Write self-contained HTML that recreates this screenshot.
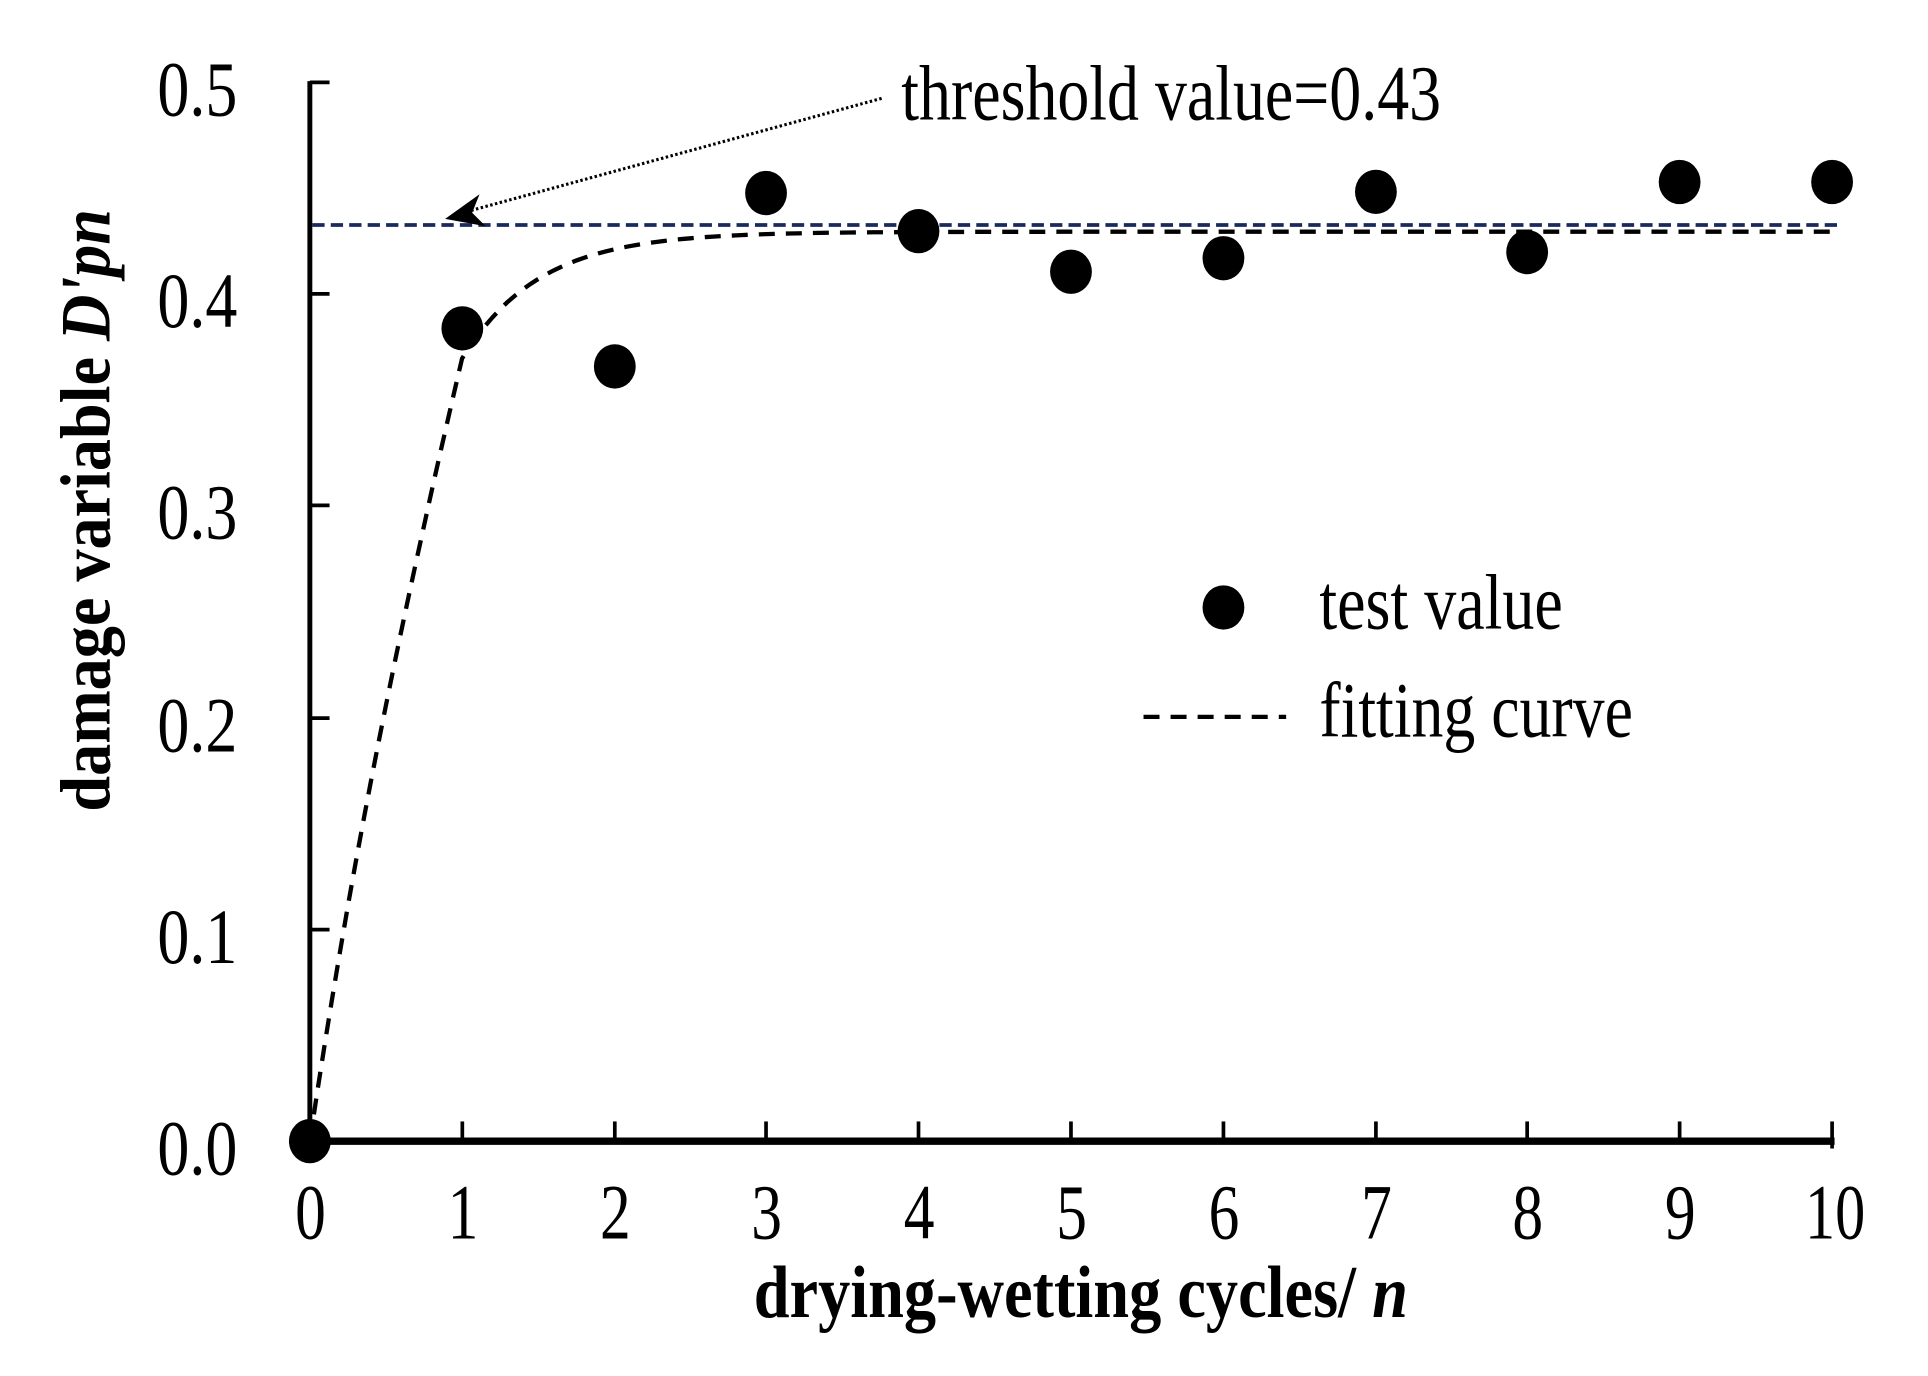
<!DOCTYPE html>
<html><head><style>html,body{margin:0;padding:0;background:#fff}svg{display:block}</style></head>
<body>
<svg width="1928" height="1376" viewBox="0 0 1568 1119" preserveAspectRatio="none" xmlns="http://www.w3.org/2000/svg" font-family="Liberation Serif, serif">
<rect width="1568" height="1119" fill="#fff"/>
<line x1="254" y1="183" x2="1498" y2="183" stroke="#1a2a5c" stroke-width="3" stroke-dasharray="10,5"/>
<path id="fit" d="" fill="none" stroke="#000" stroke-width="3.5" stroke-dasharray="13,9"/>
<line x1="252" y1="66" x2="252" y2="930" stroke="#000" stroke-width="4"/>
<line x1="250" y1="928" x2="1492" y2="928" stroke="#000" stroke-width="6"/>
<g stroke="#000" stroke-width="3">
<line x1="252" y1="67" x2="268" y2="67"/><line x1="252" y1="239" x2="268" y2="239"/><line x1="252" y1="411" x2="268" y2="411"/><line x1="252" y1="584" x2="268" y2="584"/><line x1="252" y1="756" x2="268" y2="756"/>
<line x1="376" y1="912" x2="376" y2="928"/><line x1="500" y1="912" x2="500" y2="928"/><line x1="623" y1="912" x2="623" y2="928"/><line x1="747" y1="912" x2="747" y2="928"/><line x1="871" y1="912" x2="871" y2="928"/><line x1="995" y1="912" x2="995" y2="928"/><line x1="1119" y1="912" x2="1119" y2="928"/><line x1="1242" y1="912" x2="1242" y2="928"/><line x1="1366" y1="912" x2="1366" y2="928"/><line x1="1490" y1="912" x2="1490" y2="934"/>
</g>
<g font-size="64" lengthAdjust="spacingAndGlyphs">
<text x="128" y="94" textLength="65" lengthAdjust="spacingAndGlyphs">0.5</text>
<text x="128" y="266" textLength="65" lengthAdjust="spacingAndGlyphs">0.4</text>
<text x="128" y="438" textLength="65" lengthAdjust="spacingAndGlyphs">0.3</text>
<text x="128" y="611" textLength="65" lengthAdjust="spacingAndGlyphs">0.2</text>
<text x="128" y="783" textLength="65" lengthAdjust="spacingAndGlyphs">0.1</text>
<text x="128" y="955" textLength="65" lengthAdjust="spacingAndGlyphs">0.0</text>
</g>
<g font-size="64">
<text x="240" y="1007" textLength="25" lengthAdjust="spacingAndGlyphs">0</text>
<text x="364" y="1007" textLength="25" lengthAdjust="spacingAndGlyphs">1</text>
<text x="488" y="1007" textLength="25" lengthAdjust="spacingAndGlyphs">2</text>
<text x="611" y="1007" textLength="25" lengthAdjust="spacingAndGlyphs">3</text>
<text x="735" y="1007" textLength="25" lengthAdjust="spacingAndGlyphs">4</text>
<text x="859" y="1007" textLength="25" lengthAdjust="spacingAndGlyphs">5</text>
<text x="983" y="1007" textLength="25" lengthAdjust="spacingAndGlyphs">6</text>
<text x="1107" y="1007" textLength="25" lengthAdjust="spacingAndGlyphs">7</text>
<text x="1230" y="1007" textLength="25" lengthAdjust="spacingAndGlyphs">8</text>
<text x="1354" y="1007" textLength="25" lengthAdjust="spacingAndGlyphs">9</text>
<text x="1468" y="1007" textLength="49" lengthAdjust="spacingAndGlyphs">10</text>
</g>
<text x="613" y="1071" font-size="60" font-weight="bold" textLength="532" lengthAdjust="spacingAndGlyphs">drying-wetting cycles/ <tspan font-style="italic">n</tspan></text>
<text transform="translate(89,660) rotate(-90)" font-size="58" font-weight="bold" textLength="490" lengthAdjust="spacingAndGlyphs">damage variable <tspan font-style="italic">D'pn</tspan></text>
<g fill="#000">
<ellipse cx="252" cy="928" rx="17" ry="18"/>
<ellipse cx="376" cy="267" rx="17" ry="18"/>
<ellipse cx="500" cy="298" rx="17" ry="18"/>
<ellipse cx="623" cy="157" rx="17" ry="18"/>
<ellipse cx="747" cy="188" rx="17" ry="18"/>
<ellipse cx="871" cy="221" rx="17" ry="18"/>
<ellipse cx="995" cy="210" rx="17" ry="18"/>
<ellipse cx="1119" cy="156" rx="17" ry="18"/>
<ellipse cx="1242" cy="205" rx="17" ry="18"/>
<ellipse cx="1366" cy="148" rx="17" ry="18"/>
<ellipse cx="1490" cy="148" rx="17" ry="18"/>
</g>
<line x1="717" y1="80" x2="380" y2="172" stroke="#000" stroke-width="2.5" stroke-dasharray="2,2"/>
<polygon points="362,178 390,158 384,173 395,184" fill="#000"/>
<text x="733" y="97" font-size="64" textLength="439" lengthAdjust="spacingAndGlyphs">threshold value=0.43</text>
<ellipse cx="995" cy="494" rx="17" ry="18" fill="#000"/>
<text x="1073" y="511" font-size="64" textLength="198" lengthAdjust="spacingAndGlyphs">test value</text>
<line x1="930" y1="583" x2="1046" y2="583" stroke="#000" stroke-width="3.5" stroke-dasharray="13,9"/>
<text x="1073" y="599" font-size="64" textLength="255" lengthAdjust="spacingAndGlyphs">fitting curve</text>
<script>
function f(n){return 0.4295*(1-Math.exp(-1.97*n));}
var d="";
// near-linear rise from 0 to 1
for(var i=0;i<=20;i++){var n=i/20;var v=f(1)*(0.75*n+0.25*(1-Math.exp(-1.97*n))/(1-Math.exp(-1.97)));var x=252+n*123.8,y=928-v*1722;d+=(i?"L":"M")+x.toFixed(1)+","+y.toFixed(1);}
for(var i=1;i<=180;i++){var n=1+i/20;var v=f(n);var x=252+n*123.8,y=928-v*1722;d+="L"+x.toFixed(1)+","+y.toFixed(1);}
document.getElementById("fit").setAttribute("d",d);
</script>
</svg>
</body></html>
